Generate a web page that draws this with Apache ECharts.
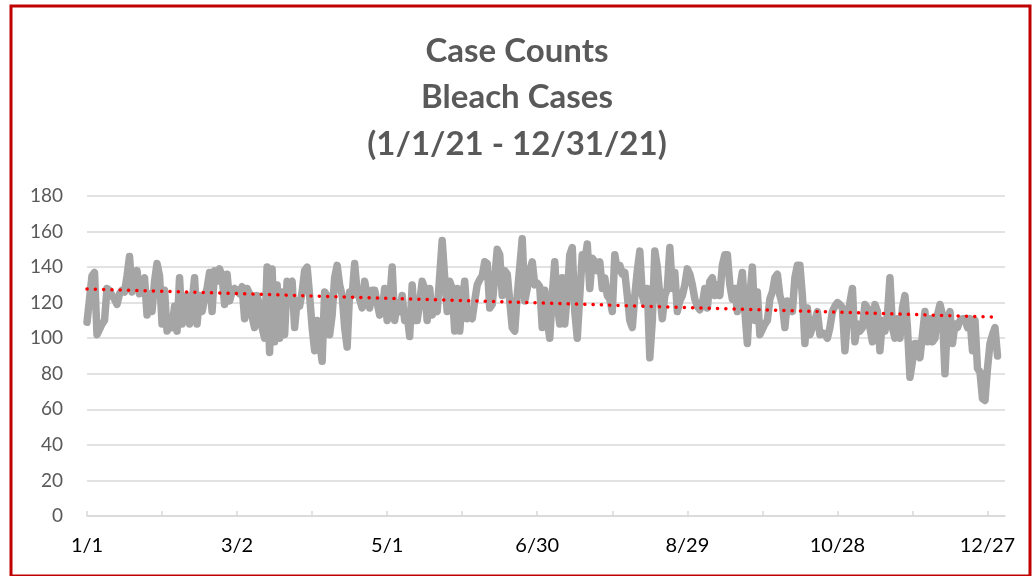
<!DOCTYPE html>
<html>
<head>
<meta charset="utf-8">
<script src="https://cdn.jsdelivr.net/npm/echarts@6/dist/echarts.min.js"></script>
<style>
html,body{margin:0;padding:0;background:#fff;}
#chart{width:1034px;height:576px;}
</style>
</head>
<body>
<div id="chart"></div>
<script>
// Daily bleach case counts, 1/1/21 .. 12/31/21 (365 days)
var casesJanFeb1 = [109,122,135,137,102,105,108,110,128,127,124,122,119,125,127,126,135,146,126,131,138,125,130,134,113,125,115,132,142,135,108,127,104,107,106,118,104];
var casesFebMar = [134,108,116,124,108,120,134,108,124,115,122,128,137,115,138,132,139,135,119,136,121,126,128,127,125,129,111,128,125,112,106,124,118,106,100,140,92];
var casesMarApr = [139,98,130,100,126,102,132,131,132,106,121,118,126,138,140,124,106,93,110,98,87,126,124,102,113,134,141,130,124,106,95,126,124,142,126,122,117];
var casesAprMay = [132,124,117,127,127,120,113,115,128,110,121,140,110,120,115,124,110,113,101,130,110,110,120,132,128,110,128,113,117,115,135,155,134,115,132,128,104,128];
var casesMayJul = [104,121,132,111,112,111,121,130,133,135,143,142,117,119,134,150,147,124,138,136,121,106,104,124,140,156,121,128,138,143,130,131,129,106,127,110,100];
var casesJulAug = [124,143,119,108,134,108,124,147,151,115,100,124,147,143,153,128,145,143,138,143,128,134,124,122,115,147,138,141,136,137,124,110,106,124,138,149,124];
var casesAugSep = [119,128,89,110,149,140,124,111,124,128,151,128,137,115,121,124,130,139,136,130,122,118,116,119,128,117,132,134,124,130,124,141,147,147,130,122,128];
var casesSepOct = [115,128,137,115,97,124,140,110,126,102,105,108,110,122,126,134,136,124,119,106,121,119,115,134,141,141,124,97,117,102,106,110,115,102,103,102,100];
var casesOctNov = [106,115,118,120,119,117,93,111,120,128,98,108,104,106,119,117,106,98,119,115,93,110,104,113,134,106,100,111,100,117,124,106,78,87,97,97,89];
var casesNovDec = [102,115,98,111,98,100,113,119,113,80,110,115,97,108,106,110,111,111,106,111,93,110,83,81,66,65,83,97,102,106,90];

var startDate = {year: 2021, month: 0, day: 1};
var yTicks = [0,20,40,60,80,100,120,140,160,180];
var xTickDays = [0,30,60,90,120,150,180,210,240,270,300,330,360];
var xLabelDays = [0,60,120,180,240,300,360];
var titleLines = ['Case Counts','Bleach Cases','(1/1/21 - 12/31/21)'];

var cases = [].concat(casesJanFeb1,casesFebMar,casesMarApr,casesAprMay,casesMayJul,casesJulAug,casesAugSep,casesSepOct,casesOctNov,casesNovDec);

function dayLabel(i){
  var d = new Date(Date.UTC(startDate.year, startDate.month, startDate.day + i));
  return (d.getUTCMonth()+1) + '/' + d.getUTCDate();
}

// linear trendline (least squares), as Excel's linear trendline
var n = cases.length, sx=0, sy=0, sxy=0, sxx=0;
for (var i=0;i<n;i++){ sx+=i; sy+=cases[i]; sxy+=i*cases[i]; sxx+=i*i; }
var slope = (n*sxy - sx*sy)/(n*sxx - sx*sx);
var intercept = (sy - slope*sx)/n;
var trend = [[0, intercept], [n-1, intercept + slope*(n-1)]];

var font = 'Lato, "Open Sans", sans-serif';
var chart = echarts.init(document.getElementById('chart'), null, {renderer:'canvas'});
chart.setOption({
  backgroundColor: '#ffffff',
  animation: false,
  title: {
    text: titleLines.join('\n'),
    left: 'center',
    top: 28,
    padding: 0,
    textStyle: {fontFamily: font, fontSize: 33, fontWeight: 'bold', color: '#595959', lineHeight: 46.5}
  },
  graphic: [{
    type: 'rect', silent: true,
    shape: {x: 11, y: 6, width: 1019, height: 570},
    style: {fill: 'none', stroke: '#C00000', lineWidth: 3}
  }],
  grid: {left: 87, right: 29, top: 196, bottom: 60, containLabel: false},
  xAxis: {
    type: 'value',
    min: 0, max: 367,
    interval: 30,
    axisLine: {show: true, lineStyle: {color: '#D9D9D9', width: 1.5}},
    axisTick: {show: true, inside: true, length: 5, customValues: xTickDays, lineStyle: {color: '#D9D9D9', width: 1.5}},
    axisLabel: {customValues: xLabelDays, formatter: function(v){ return dayLabel(v); }, fontFamily: font, fontSize: 20, color: '#000000', margin: 20},
    splitLine: {show: false}
  },
  yAxis: {
    type: 'value',
    min: 0, max: 180, interval: 20,
    axisLine: {show: false},
    axisTick: {show: false},
    axisLabel: {fontFamily: font, fontSize: 19, color: '#595959', margin: 24},
    splitLine: {show: true, lineStyle: {color: '#D9D9D9', width: 1.5}}
  },
  series: [{
    type: 'line',
    data: cases.map(function(v,i){ return [i, v]; }),
    showSymbol: false,
    symbol: 'none',
    lineStyle: {color: '#A5A5A5', width: 7.5, join: 'round', cap: 'round'},
    z: 2
  },{
    type: 'line',
    data: trend,
    showSymbol: false,
    symbol: 'none',
    lineStyle: {color: '#FF0000', width: 3.5, type: [0.1, 8.2], cap: 'round'},
    z: 3
  }]
});
</script>
</body>
</html>
